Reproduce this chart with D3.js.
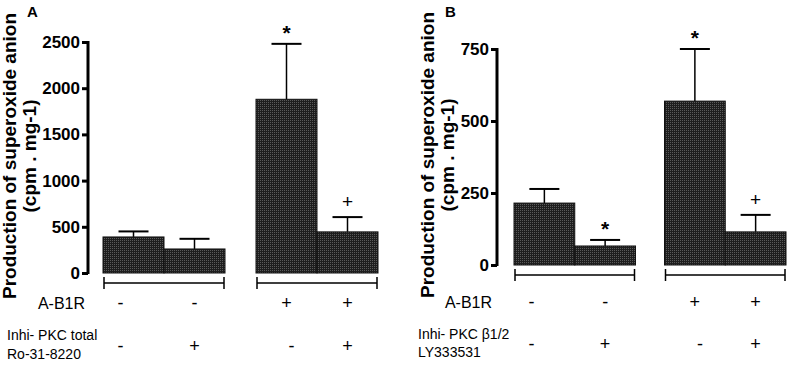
<!DOCTYPE html>
<html><head><meta charset="utf-8">
<script src="https://cdn.jsdelivr.net/npm/d3@7/dist/d3.min.js"></script>
<style>body{margin:0;background:#fff}svg{display:block;font-family:"Liberation Sans",Arial,sans-serif}</style>
</head><body><svg id="c" width="788" height="367"></svg>
<script>
// ---- data ----
const categories = ["ctrl", "inhi", "A-B1R", "A-B1R+inhi"];
const panelAValues = [390, 260, 1880, 445];
const panelAErrors = [60, 110, 600, 160];
const panelATicks = [0, 500, 1000, 1500, 2000, 2500];
const panelAMarks = ["", "", "*", "+"];
const panelBValues = [215, 66, 569, 115];
const panelBErrors = [49, 21, 181, 59];
const panelBTicks = [0, 250, 500, 750];
const panelBMarks = ["", "*", "*", "+"];
const abrSigns = ["-", "-", "+", "+"];
const inhiSigns = ["-", "+", "-", "+"];
const yTitle = ["Production of superoxide anion", "(cpm . mg-1)"];

const svg = d3.select("#c");
const defs = svg.append("defs");
const pat = defs.append("pattern").attr("id","dots").attr("width",2).attr("height",2).attr("patternUnits","userSpaceOnUse");
pat.append("rect").attr("width",2).attr("height",2).attr("fill","#1e1e1e");
pat.append("rect").attr("width",1).attr("height",1).attr("fill","#5a5a5a");

function panel(o){
  const g = svg.append("g");
  const y = d3.scaleLinear().domain([0, d3.max(o.ticks)]).range([o.y0, o.y1]);
  const bw = (o.x1 - o.x0 - o.gap) / 4;
  const x = d3.scaleBand().domain(categories).range([o.x0, o.x1 - o.gap]).padding(0);
  const bx = (c,i) => x(c) + (i >= 2 ? o.gap : 0);
  // axis
  const ax = g.append("g").attr("transform",`translate(${o.ax},0)`)
    .call(d3.axisLeft(y).tickValues(o.ticks).tickSize(6).tickPadding(2).tickFormat(d3.format("d")));
  ax.select(".domain").attr("stroke","#000").attr("stroke-width",3).attr("d",`M0,${o.y0+1}V${o.y1-1}`);
  ax.selectAll(".tick line").attr("stroke","#000").attr("stroke-width",3);
  ax.selectAll(".tick text").attr("fill","#000").attr("font-size",17).attr("font-weight","bold")
    .attr("font-family","Liberation Sans, Arial, sans-serif");
  // error bars (upward)
  const vals = o.values, errs = o.errors;
  categories.forEach((c,i)=>{
    const cx = bx(c,i) + bw/2;
    g.append("line").attr("x1",cx).attr("x2",cx).attr("y1",y(vals[i])).attr("y2",y(vals[i]+errs[i])).attr("stroke","#000").attr("stroke-width",1.5);
    g.append("line").attr("x1",cx-15).attr("x2",cx+15).attr("y1",y(vals[i]+errs[i])).attr("y2",y(vals[i]+errs[i])).attr("stroke","#000").attr("stroke-width",2);
  });
  // bars
  g.selectAll("rect.bar").data(categories).join("rect").attr("class","bar")
    .attr("x",(c,i)=>bx(c,i)).attr("width",bw)
    .attr("y",(c,i)=>y(vals[i])).attr("height",(c,i)=>y(0)-y(vals[i]))
    .attr("fill","url(#dots)").attr("stroke","#111").attr("stroke-width",1);
  // marks
  g.selectAll("text.mark").data(categories).join("text").attr("class","mark")
    .attr("x",(c,i)=>bx(c,i)+bw/2).attr("y",(c,i)=>y(vals[i]+errs[i]) - (o.marks[i]==="*"?4:9))
    .attr("text-anchor","middle").attr("font-size",(c,i)=>o.marks[i]==="*"?21:19)
    .attr("font-weight",(c,i)=>o.marks[i]==="*"?"bold":"normal")
    .text((c,i)=>o.marks[i]);
  // brackets
  [[0,1],[2,3]].forEach(([a,b])=>{
    const l = bx(categories[a],a)+1, r = bx(categories[b],b)+bw-1, yy = o.br;
    g.append("path").attr("d",`M${l},${yy}H${r}M${l},${yy-6}V${yy+6}M${r},${yy-6}V${yy+6}`)
      .attr("stroke","#000").attr("stroke-width",1.5).attr("fill","none");
  });
  // sign rows
  const shift = [-13,0,0,0];
  categories.forEach((c,i)=>{
    const cx = bx(c,i)+bw/2 + shift[i];
    g.append("text").attr("x",cx).attr("y",o.r1).attr("text-anchor","middle").attr("font-size",18).text(abrSigns[i]);
    g.append("text").attr("x",cx + (i===2?5:0)).attr("y",o.r2).attr("text-anchor","middle").attr("font-size",18).text(inhiSigns[i]);
  });
  g.append("text").attr("x",o.abrX).attr("y",o.r1).attr("text-anchor","end").attr("font-size",16).text("A-B1R");
  g.append("text").attr("x",o.inX).attr("y",o.in1).attr("font-size",14).text(o.inhi[0]);
  g.append("text").attr("x",o.inX).attr("y",o.in2).attr("font-size",14).text(o.inhi[1]);
  // y title
  g.append("text").attr("transform",`translate(${o.t1},${o.tc}) rotate(-90)`).attr("text-anchor","middle")
    .attr("font-size",19).attr("font-weight","bold").text(yTitle[0]);
  g.append("text").attr("transform",`translate(${o.t2},${o.tc}) rotate(-90)`).attr("text-anchor","middle")
    .attr("font-size",19).attr("font-weight","bold").text(yTitle[1]);
  g.append("text").attr("x",o.lx).attr("y",17).attr("font-size",15).attr("font-weight","bold").text(o.letter);
}

panel({values:panelAValues, errors:panelAErrors, ticks:panelATicks, marks:panelAMarks,
  y0:273, y1:42, x0:103, x1:378, gap:31, ax:88, br:283, r1:309, r2:352,
  abrX:85, inX:7, in1:340, in2:359, inhi:["Inhi- PKC total","Ro-31-8220"],
  t1:16, t2:36, tc:156, lx:27, letter:"A"});
panel({values:panelBValues, errors:panelBErrors, ticks:panelBTicks, marks:panelBMarks,
  y0:265, y1:49, x0:514, x1:786, gap:29, ax:497, br:275, r1:308, r2:350,
  abrX:492, inX:418, in1:339, in2:357, inhi:["Inhi- PKC β1/2","LY333531"],
  t1:434, t2:454, tc:155, lx:445, letter:"B"});
</script></body></html>
